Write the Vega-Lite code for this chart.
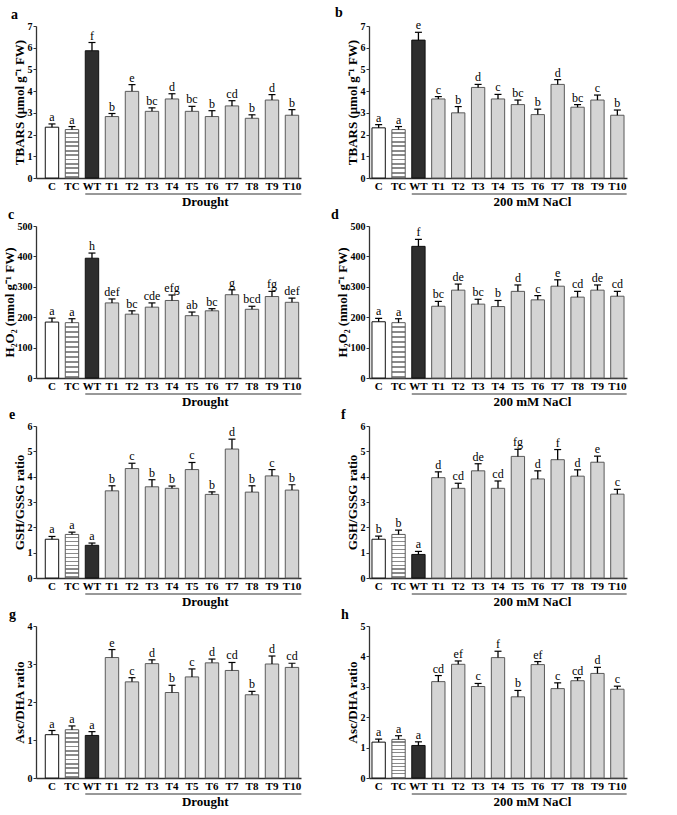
{
"$schema": "https://vega.github.io/schema/vega-lite/v6.json",
"padding": {"left": 3, "top": 6, "right": 5, "bottom": 5},
"background": "white",
"datasets": {
"bars": [
{"p":"a","g":"C","v":2.34,"hi":2.49,"l":"a"},{"p":"a","g":"TC","v":2.23,"hi":2.37,"l":"a"},{"p":"a","g":"WT","v":5.86,"hi":6.24,"l":"f"},{"p":"a","g":"T1","v":2.83,"hi":2.97,"l":"b"},{"p":"a","g":"T2","v":3.99,"hi":4.30,"l":"e"},{"p":"a","g":"T3","v":3.07,"hi":3.23,"l":"bc"},{"p":"a","g":"T4","v":3.64,"hi":3.88,"l":"d"},{"p":"a","g":"T5","v":3.07,"hi":3.30,"l":"bc"},{"p":"a","g":"T6","v":2.83,"hi":3.10,"l":"b"},{"p":"a","g":"T7","v":3.32,"hi":3.56,"l":"cd"},{"p":"a","g":"T8","v":2.75,"hi":2.91,"l":"b"},{"p":"a","g":"T9","v":3.59,"hi":3.84,"l":"d"},{"p":"a","g":"T10","v":2.89,"hi":3.15,"l":"b"},
{"p":"b","g":"C","v":2.31,"hi":2.46,"l":"a"},{"p":"b","g":"TC","v":2.23,"hi":2.37,"l":"a"},{"p":"b","g":"WT","v":6.35,"hi":6.71,"l":"e"},{"p":"b","g":"T1","v":3.64,"hi":3.75,"l":"c"},{"p":"b","g":"T2","v":3.00,"hi":3.29,"l":"b"},{"p":"b","g":"T3","v":4.17,"hi":4.31,"l":"d"},{"p":"b","g":"T4","v":3.64,"hi":3.85,"l":"c"},{"p":"b","g":"T5","v":3.38,"hi":3.59,"l":"bc"},{"p":"b","g":"T6","v":2.92,"hi":3.17,"l":"b"},{"p":"b","g":"T7","v":4.31,"hi":4.53,"l":"d"},{"p":"b","g":"T8","v":3.26,"hi":3.38,"l":"bc"},{"p":"b","g":"T9","v":3.59,"hi":3.82,"l":"c"},{"p":"b","g":"T10","v":2.89,"hi":3.13,"l":"b"},
{"p":"c","g":"C","v":184,"hi":197,"l":"a"},{"p":"c","g":"TC","v":182,"hi":195,"l":"a"},{"p":"c","g":"WT","v":394,"hi":411,"l":"h"},{"p":"c","g":"T1","v":247,"hi":260,"l":"def"},{"p":"c","g":"T2","v":210,"hi":221,"l":"bc"},{"p":"c","g":"T3","v":233,"hi":247,"l":"cde"},{"p":"c","g":"T4","v":255,"hi":273,"l":"efg"},{"p":"c","g":"T5","v":205,"hi":217,"l":"ab"},{"p":"c","g":"T6","v":221,"hi":228,"l":"bc"},{"p":"c","g":"T7","v":274,"hi":290,"l":"g"},{"p":"c","g":"T8","v":226,"hi":236,"l":"bcd"},{"p":"c","g":"T9","v":268,"hi":285,"l":"fg"},{"p":"c","g":"T10","v":249,"hi":263,"l":"def"},
{"p":"d","g":"C","v":185,"hi":196,"l":"a"},{"p":"d","g":"TC","v":182,"hi":195,"l":"a"},{"p":"d","g":"WT","v":433,"hi":456,"l":"f"},{"p":"d","g":"T1","v":236,"hi":252,"l":"bc"},{"p":"d","g":"T2","v":289,"hi":309,"l":"de"},{"p":"d","g":"T3","v":243,"hi":259,"l":"bc"},{"p":"d","g":"T4","v":235,"hi":255,"l":"b"},{"p":"d","g":"T5","v":285,"hi":306,"l":"d"},{"p":"d","g":"T6","v":257,"hi":271,"l":"c"},{"p":"d","g":"T7","v":302,"hi":323,"l":"e"},{"p":"d","g":"T8","v":266,"hi":285,"l":"cd"},{"p":"d","g":"T9","v":289,"hi":306,"l":"de"},{"p":"d","g":"T10","v":269,"hi":285,"l":"cd"},
{"p":"e","g":"C","v":1.53,"hi":1.64,"l":"a"},{"p":"e","g":"TC","v":1.72,"hi":1.81,"l":"a"},{"p":"e","g":"WT","v":1.29,"hi":1.38,"l":"a"},{"p":"e","g":"T1","v":3.44,"hi":3.64,"l":"b"},{"p":"e","g":"T2","v":4.32,"hi":4.53,"l":"c"},{"p":"e","g":"T3","v":3.60,"hi":3.88,"l":"b"},{"p":"e","g":"T4","v":3.54,"hi":3.63,"l":"b"},{"p":"e","g":"T5","v":4.28,"hi":4.56,"l":"c"},{"p":"e","g":"T6","v":3.30,"hi":3.40,"l":"b"},{"p":"e","g":"T7","v":5.09,"hi":5.48,"l":"d"},{"p":"e","g":"T8","v":3.39,"hi":3.64,"l":"b"},{"p":"e","g":"T9","v":4.03,"hi":4.28,"l":"c"},{"p":"e","g":"T10","v":3.47,"hi":3.68,"l":"b"},
{"p":"f","g":"C","v":1.53,"hi":1.65,"l":"b"},{"p":"f","g":"TC","v":1.72,"hi":1.89,"l":"b"},{"p":"f","g":"WT","v":0.93,"hi":1.05,"l":"a"},{"p":"f","g":"T1","v":3.96,"hi":4.19,"l":"d"},{"p":"f","g":"T2","v":3.54,"hi":3.74,"l":"cd"},{"p":"f","g":"T3","v":4.23,"hi":4.51,"l":"de"},{"p":"f","g":"T4","v":3.54,"hi":3.83,"l":"cd"},{"p":"f","g":"T5","v":4.80,"hi":5.08,"l":"fg"},{"p":"f","g":"T6","v":3.91,"hi":4.23,"l":"d"},{"p":"f","g":"T7","v":4.67,"hi":5.07,"l":"f"},{"p":"f","g":"T8","v":4.02,"hi":4.27,"l":"d"},{"p":"f","g":"T9","v":4.57,"hi":4.81,"l":"e"},{"p":"f","g":"T10","v":3.31,"hi":3.50,"l":"c"},
{"p":"g","g":"C","v":1.14,"hi":1.25,"l":"a"},{"p":"g","g":"TC","v":1.27,"hi":1.37,"l":"a"},{"p":"g","g":"WT","v":1.12,"hi":1.22,"l":"a"},{"p":"g","g":"T1","v":3.17,"hi":3.38,"l":"e"},{"p":"g","g":"T2","v":2.53,"hi":2.64,"l":"c"},{"p":"g","g":"T3","v":3.01,"hi":3.11,"l":"d"},{"p":"g","g":"T4","v":2.25,"hi":2.44,"l":"b"},{"p":"g","g":"T5","v":2.66,"hi":2.87,"l":"c"},{"p":"g","g":"T6","v":3.03,"hi":3.13,"l":"d"},{"p":"g","g":"T7","v":2.83,"hi":3.04,"l":"cd"},{"p":"g","g":"T8","v":2.19,"hi":2.28,"l":"b"},{"p":"g","g":"T9","v":3.00,"hi":3.21,"l":"d"},{"p":"g","g":"T10","v":2.91,"hi":3.02,"l":"cd"},
{"p":"h","g":"C","v":1.18,"hi":1.28,"l":"a"},{"p":"h","g":"TC","v":1.27,"hi":1.39,"l":"a"},{"p":"h","g":"WT","v":1.07,"hi":1.19,"l":"a"},{"p":"h","g":"T1","v":3.17,"hi":3.37,"l":"cd"},{"p":"h","g":"T2","v":3.74,"hi":3.85,"l":"ef"},{"p":"h","g":"T3","v":3.01,"hi":3.11,"l":"c"},{"p":"h","g":"T4","v":3.96,"hi":4.17,"l":"f"},{"p":"h","g":"T5","v":2.67,"hi":2.88,"l":"b"},{"p":"h","g":"T6","v":3.73,"hi":3.83,"l":"ef"},{"p":"h","g":"T7","v":2.94,"hi":3.13,"l":"c"},{"p":"h","g":"T8","v":3.20,"hi":3.30,"l":"cd"},{"p":"h","g":"T9","v":3.44,"hi":3.64,"l":"d"},{"p":"h","g":"T10","v":2.92,"hi":3.02,"l":"c"}
],
"groups": [
{"p":"a","t":"Drought"},{"p":"b","t":"200 mM NaCl"},{"p":"c","t":"Drought"},{"p":"d","t":"200 mM NaCl"},{"p":"e","t":"Drought"},{"p":"f","t":"200 mM NaCl"},{"p":"g","t":"Drought"},{"p":"h","t":"200 mM NaCl"}
]
},
"data": {"name": "bars"},
"columns": 2,
"bounds": "flush",
"spacing": {"row": 48, "column": 68},
"concat": [
{
"width": 265, "height": 152,
"title": {"text": "a", "dx": -2},
"transform": [{"filter": "datum.p === 'a'"}],
"encoding": {"x": {"field": "g", "type": "nominal", "title": null, "sort": ["C","TC","WT","T1","T2","T3","T4","T5","T6","T7","T8","T9","T10"], "scale": {"paddingInner": 0.33, "paddingOuter": 0.29, "align": 0.8}, "axis": {"labelOverlap": false}}},
"layer": [
{"transform": [{"filter": "datum.g !== 'TC'"}], "mark": {"type": "bar", "strokeWidth": 1}, "encoding": {"y": {"field": "v", "type": "quantitative", "scale": {"domain": [0, 7], "nice": false}, "axis": {"values": [0,1,2,3,4,5,6,7], "tickCount": 10, "format": "d", "labelOverlap": false, "title": "TBARS (μmol  g⁻¹  FW)"}}, "fill": {"condition": [{"test": "datum.g === 'C'", "value": "white"}, {"test": "datum.g === 'WT'", "value": "#2e2e2e"}], "value": "#d4d4d4"}, "stroke": {"condition": [{"test": "datum.g === 'C' || datum.g === 'WT'", "value": "#111111"}], "value": "#5a5a5a"}}},
{"transform": [{"filter": "datum.g === 'TC'"}], "mark": {"type": "bar", "strokeWidth": 1, "stroke": "#5a5a5a", "fill": {"gradient": "linear", "x1": 0, "y1": 0, "x2": 0, "y2": 1, "stops": [{"offset": 0, "color": "white"}, {"offset": 0.0545, "color": "white"}, {"offset": 0.0545, "color": "#8a8a8a"}, {"offset": 0.0909, "color": "#8a8a8a"}, {"offset": 0.0909, "color": "white"}, {"offset": 0.1455, "color": "white"}, {"offset": 0.1455, "color": "#8a8a8a"}, {"offset": 0.1818, "color": "#8a8a8a"}, {"offset": 0.1818, "color": "white"}, {"offset": 0.2364, "color": "white"}, {"offset": 0.2364, "color": "#8a8a8a"}, {"offset": 0.2727, "color": "#8a8a8a"}, {"offset": 0.2727, "color": "white"}, {"offset": 0.3273, "color": "white"}, {"offset": 0.3273, "color": "#8a8a8a"}, {"offset": 0.3636, "color": "#8a8a8a"}, {"offset": 0.3636, "color": "white"}, {"offset": 0.4182, "color": "white"}, {"offset": 0.4182, "color": "#8a8a8a"}, {"offset": 0.4545, "color": "#8a8a8a"}, {"offset": 0.4545, "color": "white"}, {"offset": 0.5091, "color": "white"}, {"offset": 0.5091, "color": "#8a8a8a"}, {"offset": 0.5455, "color": "#8a8a8a"}, {"offset": 0.5455, "color": "white"}, {"offset": 0.6, "color": "white"}, {"offset": 0.6, "color": "#8a8a8a"}, {"offset": 0.6364, "color": "#8a8a8a"}, {"offset": 0.6364, "color": "white"}, {"offset": 0.6909, "color": "white"}, {"offset": 0.6909, "color": "#8a8a8a"}, {"offset": 0.7273, "color": "#8a8a8a"}, {"offset": 0.7273, "color": "white"}, {"offset": 0.7818, "color": "white"}, {"offset": 0.7818, "color": "#8a8a8a"}, {"offset": 0.8182, "color": "#8a8a8a"}, {"offset": 0.8182, "color": "white"}, {"offset": 0.8727, "color": "white"}, {"offset": 0.8727, "color": "#8a8a8a"}, {"offset": 0.9091, "color": "#8a8a8a"}, {"offset": 0.9091, "color": "white"}, {"offset": 0.9636, "color": "white"}, {"offset": 0.9636, "color": "#8a8a8a"}, {"offset": 1, "color": "#8a8a8a"}]}}, "encoding": {"y": {"field": "v", "type": "quantitative"}}},
{"mark": {"type": "rule", "color": "black", "strokeWidth": 1.3}, "encoding": {"y": {"field": "v", "type": "quantitative"}, "y2": {"field": "hi"}}},
{"mark": {"type": "tick", "color": "black", "size": 7, "thickness": 1.2, "opacity": 1}, "encoding": {"y": {"field": "hi", "type": "quantitative"}}},
{"mark": {"type": "text", "fontSize": 12, "baseline": "alphabetic", "dy": -3, "color": "black"}, "encoding": {"y": {"field": "hi", "type": "quantitative"}, "text": {"field": "l"}}},
{"data": {"name": "groups"}, "transform": [{"filter": "datum.p === 'a'"}], "mark": {"type": "rule", "color": "#333333", "strokeWidth": 1, "yOffset": 16}, "encoding": {"x": {"datum": "WT", "bandPosition": 0}, "x2": {"datum": "T10", "bandPosition": 1.2}, "y": {"datum": 0}}},
{"data": {"name": "groups"}, "transform": [{"filter": "datum.p === 'a'"}], "mark": {"type": "text", "fontSize": 13, "fontWeight": "bold", "baseline": "alphabetic", "dy": 28, "color": "black"}, "encoding": {"x": {"datum": "T6", "bandPosition": 0}, "y": {"datum": 0}, "text": {"field": "t"}}}
]
},
{
"width": 258, "height": 152,
"title": {"text": "b", "dx": -11},
"transform": [{"filter": "datum.p === 'b'"}],
"encoding": {"x": {"field": "g", "type": "nominal", "title": null, "sort": ["C","TC","WT","T1","T2","T3","T4","T5","T6","T7","T8","T9","T10"], "scale": {"paddingInner": 0.33, "paddingOuter": 0.15, "align": 0.5}, "axis": {"labelOverlap": false}}},
"layer": [
{"transform": [{"filter": "datum.g !== 'TC'"}], "mark": {"type": "bar", "strokeWidth": 1}, "encoding": {"y": {"field": "v", "type": "quantitative", "scale": {"domain": [0, 7], "nice": false}, "axis": {"values": [0,1,2,3,4,5,6,7], "tickCount": 10, "format": "d", "labelOverlap": false, "title": "TBARS (μmol  g⁻¹  FW)"}}, "fill": {"condition": [{"test": "datum.g === 'C'", "value": "white"}, {"test": "datum.g === 'WT'", "value": "#2e2e2e"}], "value": "#d4d4d4"}, "stroke": {"condition": [{"test": "datum.g === 'C' || datum.g === 'WT'", "value": "#111111"}], "value": "#5a5a5a"}}},
{"transform": [{"filter": "datum.g === 'TC'"}], "mark": {"type": "bar", "strokeWidth": 1, "stroke": "#5a5a5a", "fill": {"gradient": "linear", "x1": 0, "y1": 0, "x2": 0, "y2": 1, "stops": [{"offset": 0, "color": "white"}, {"offset": 0.0545, "color": "white"}, {"offset": 0.0545, "color": "#8a8a8a"}, {"offset": 0.0909, "color": "#8a8a8a"}, {"offset": 0.0909, "color": "white"}, {"offset": 0.1455, "color": "white"}, {"offset": 0.1455, "color": "#8a8a8a"}, {"offset": 0.1818, "color": "#8a8a8a"}, {"offset": 0.1818, "color": "white"}, {"offset": 0.2364, "color": "white"}, {"offset": 0.2364, "color": "#8a8a8a"}, {"offset": 0.2727, "color": "#8a8a8a"}, {"offset": 0.2727, "color": "white"}, {"offset": 0.3273, "color": "white"}, {"offset": 0.3273, "color": "#8a8a8a"}, {"offset": 0.3636, "color": "#8a8a8a"}, {"offset": 0.3636, "color": "white"}, {"offset": 0.4182, "color": "white"}, {"offset": 0.4182, "color": "#8a8a8a"}, {"offset": 0.4545, "color": "#8a8a8a"}, {"offset": 0.4545, "color": "white"}, {"offset": 0.5091, "color": "white"}, {"offset": 0.5091, "color": "#8a8a8a"}, {"offset": 0.5455, "color": "#8a8a8a"}, {"offset": 0.5455, "color": "white"}, {"offset": 0.6, "color": "white"}, {"offset": 0.6, "color": "#8a8a8a"}, {"offset": 0.6364, "color": "#8a8a8a"}, {"offset": 0.6364, "color": "white"}, {"offset": 0.6909, "color": "white"}, {"offset": 0.6909, "color": "#8a8a8a"}, {"offset": 0.7273, "color": "#8a8a8a"}, {"offset": 0.7273, "color": "white"}, {"offset": 0.7818, "color": "white"}, {"offset": 0.7818, "color": "#8a8a8a"}, {"offset": 0.8182, "color": "#8a8a8a"}, {"offset": 0.8182, "color": "white"}, {"offset": 0.8727, "color": "white"}, {"offset": 0.8727, "color": "#8a8a8a"}, {"offset": 0.9091, "color": "#8a8a8a"}, {"offset": 0.9091, "color": "white"}, {"offset": 0.9636, "color": "white"}, {"offset": 0.9636, "color": "#8a8a8a"}, {"offset": 1, "color": "#8a8a8a"}]}}, "encoding": {"y": {"field": "v", "type": "quantitative"}}},
{"mark": {"type": "rule", "color": "black", "strokeWidth": 1.3}, "encoding": {"y": {"field": "v", "type": "quantitative"}, "y2": {"field": "hi"}}},
{"mark": {"type": "tick", "color": "black", "size": 7, "thickness": 1.2, "opacity": 1}, "encoding": {"y": {"field": "hi", "type": "quantitative"}}},
{"mark": {"type": "text", "fontSize": 12, "baseline": "alphabetic", "dy": -3, "color": "black"}, "encoding": {"y": {"field": "hi", "type": "quantitative"}, "text": {"field": "l"}}},
{"data": {"name": "groups"}, "transform": [{"filter": "datum.p === 'b'"}], "mark": {"type": "rule", "color": "#333333", "strokeWidth": 1, "yOffset": 16}, "encoding": {"x": {"datum": "WT", "bandPosition": 0}, "x2": {"datum": "T10", "bandPosition": 1.2}, "y": {"datum": 0}}},
{"data": {"name": "groups"}, "transform": [{"filter": "datum.p === 'b'"}], "mark": {"type": "text", "fontSize": 13, "fontWeight": "bold", "baseline": "alphabetic", "dy": 28, "color": "black"}, "encoding": {"x": {"datum": "T6", "bandPosition": 0.1}, "y": {"datum": 0}, "text": {"field": "t"}}}
]
},
{
"width": 265, "height": 152,
"title": {"text": "c", "dx": 5},
"transform": [{"filter": "datum.p === 'c'"}],
"encoding": {"x": {"field": "g", "type": "nominal", "title": null, "sort": ["C","TC","WT","T1","T2","T3","T4","T5","T6","T7","T8","T9","T10"], "scale": {"paddingInner": 0.33, "paddingOuter": 0.29, "align": 0.8}, "axis": {"labelOverlap": false}}},
"layer": [
{"transform": [{"filter": "datum.g !== 'TC'"}], "mark": {"type": "bar", "strokeWidth": 1}, "encoding": {"y": {"field": "v", "type": "quantitative", "scale": {"domain": [0, 500], "nice": false}, "axis": {"values": [0,100,200,300,400,500], "tickCount": 10, "format": "d", "labelOverlap": false, "title": "H₂O₂  (nmol g⁻¹ FW)"}}, "fill": {"condition": [{"test": "datum.g === 'C'", "value": "white"}, {"test": "datum.g === 'WT'", "value": "#2e2e2e"}], "value": "#d4d4d4"}, "stroke": {"condition": [{"test": "datum.g === 'C' || datum.g === 'WT'", "value": "#111111"}], "value": "#5a5a5a"}}},
{"transform": [{"filter": "datum.g === 'TC'"}], "mark": {"type": "bar", "strokeWidth": 1, "stroke": "#5a5a5a", "fill": {"gradient": "linear", "x1": 0, "y1": 0, "x2": 0, "y2": 1, "stops": [{"offset": 0, "color": "white"}, {"offset": 0.0545, "color": "white"}, {"offset": 0.0545, "color": "#8a8a8a"}, {"offset": 0.0909, "color": "#8a8a8a"}, {"offset": 0.0909, "color": "white"}, {"offset": 0.1455, "color": "white"}, {"offset": 0.1455, "color": "#8a8a8a"}, {"offset": 0.1818, "color": "#8a8a8a"}, {"offset": 0.1818, "color": "white"}, {"offset": 0.2364, "color": "white"}, {"offset": 0.2364, "color": "#8a8a8a"}, {"offset": 0.2727, "color": "#8a8a8a"}, {"offset": 0.2727, "color": "white"}, {"offset": 0.3273, "color": "white"}, {"offset": 0.3273, "color": "#8a8a8a"}, {"offset": 0.3636, "color": "#8a8a8a"}, {"offset": 0.3636, "color": "white"}, {"offset": 0.4182, "color": "white"}, {"offset": 0.4182, "color": "#8a8a8a"}, {"offset": 0.4545, "color": "#8a8a8a"}, {"offset": 0.4545, "color": "white"}, {"offset": 0.5091, "color": "white"}, {"offset": 0.5091, "color": "#8a8a8a"}, {"offset": 0.5455, "color": "#8a8a8a"}, {"offset": 0.5455, "color": "white"}, {"offset": 0.6, "color": "white"}, {"offset": 0.6, "color": "#8a8a8a"}, {"offset": 0.6364, "color": "#8a8a8a"}, {"offset": 0.6364, "color": "white"}, {"offset": 0.6909, "color": "white"}, {"offset": 0.6909, "color": "#8a8a8a"}, {"offset": 0.7273, "color": "#8a8a8a"}, {"offset": 0.7273, "color": "white"}, {"offset": 0.7818, "color": "white"}, {"offset": 0.7818, "color": "#8a8a8a"}, {"offset": 0.8182, "color": "#8a8a8a"}, {"offset": 0.8182, "color": "white"}, {"offset": 0.8727, "color": "white"}, {"offset": 0.8727, "color": "#8a8a8a"}, {"offset": 0.9091, "color": "#8a8a8a"}, {"offset": 0.9091, "color": "white"}, {"offset": 0.9636, "color": "white"}, {"offset": 0.9636, "color": "#8a8a8a"}, {"offset": 1, "color": "#8a8a8a"}]}}, "encoding": {"y": {"field": "v", "type": "quantitative"}}},
{"mark": {"type": "rule", "color": "black", "strokeWidth": 1.3}, "encoding": {"y": {"field": "v", "type": "quantitative"}, "y2": {"field": "hi"}}},
{"mark": {"type": "tick", "color": "black", "size": 7, "thickness": 1.2, "opacity": 1}, "encoding": {"y": {"field": "hi", "type": "quantitative"}}},
{"mark": {"type": "text", "fontSize": 12, "baseline": "alphabetic", "dy": -3, "color": "black"}, "encoding": {"y": {"field": "hi", "type": "quantitative"}, "text": {"field": "l"}}},
{"data": {"name": "groups"}, "transform": [{"filter": "datum.p === 'c'"}], "mark": {"type": "rule", "color": "#333333", "strokeWidth": 1, "yOffset": 16}, "encoding": {"x": {"datum": "WT", "bandPosition": 0}, "x2": {"datum": "T10", "bandPosition": 1.2}, "y": {"datum": 0}}},
{"data": {"name": "groups"}, "transform": [{"filter": "datum.p === 'c'"}], "mark": {"type": "text", "fontSize": 13, "fontWeight": "bold", "baseline": "alphabetic", "dy": 28, "color": "black"}, "encoding": {"x": {"datum": "T6", "bandPosition": 0}, "y": {"datum": 0}, "text": {"field": "t"}}}
]
},
{
"width": 258, "height": 152,
"title": {"text": "d", "dx": -5},
"transform": [{"filter": "datum.p === 'd'"}],
"encoding": {"x": {"field": "g", "type": "nominal", "title": null, "sort": ["C","TC","WT","T1","T2","T3","T4","T5","T6","T7","T8","T9","T10"], "scale": {"paddingInner": 0.33, "paddingOuter": 0.15, "align": 0.5}, "axis": {"labelOverlap": false}}},
"layer": [
{"transform": [{"filter": "datum.g !== 'TC'"}], "mark": {"type": "bar", "strokeWidth": 1}, "encoding": {"y": {"field": "v", "type": "quantitative", "scale": {"domain": [0, 500], "nice": false}, "axis": {"values": [0,100,200,300,400,500], "tickCount": 10, "format": "d", "labelOverlap": false, "title": "H₂O₂  (nmol g⁻¹ FW)"}}, "fill": {"condition": [{"test": "datum.g === 'C'", "value": "white"}, {"test": "datum.g === 'WT'", "value": "#2e2e2e"}], "value": "#d4d4d4"}, "stroke": {"condition": [{"test": "datum.g === 'C' || datum.g === 'WT'", "value": "#111111"}], "value": "#5a5a5a"}}},
{"transform": [{"filter": "datum.g === 'TC'"}], "mark": {"type": "bar", "strokeWidth": 1, "stroke": "#5a5a5a", "fill": {"gradient": "linear", "x1": 0, "y1": 0, "x2": 0, "y2": 1, "stops": [{"offset": 0, "color": "white"}, {"offset": 0.0545, "color": "white"}, {"offset": 0.0545, "color": "#8a8a8a"}, {"offset": 0.0909, "color": "#8a8a8a"}, {"offset": 0.0909, "color": "white"}, {"offset": 0.1455, "color": "white"}, {"offset": 0.1455, "color": "#8a8a8a"}, {"offset": 0.1818, "color": "#8a8a8a"}, {"offset": 0.1818, "color": "white"}, {"offset": 0.2364, "color": "white"}, {"offset": 0.2364, "color": "#8a8a8a"}, {"offset": 0.2727, "color": "#8a8a8a"}, {"offset": 0.2727, "color": "white"}, {"offset": 0.3273, "color": "white"}, {"offset": 0.3273, "color": "#8a8a8a"}, {"offset": 0.3636, "color": "#8a8a8a"}, {"offset": 0.3636, "color": "white"}, {"offset": 0.4182, "color": "white"}, {"offset": 0.4182, "color": "#8a8a8a"}, {"offset": 0.4545, "color": "#8a8a8a"}, {"offset": 0.4545, "color": "white"}, {"offset": 0.5091, "color": "white"}, {"offset": 0.5091, "color": "#8a8a8a"}, {"offset": 0.5455, "color": "#8a8a8a"}, {"offset": 0.5455, "color": "white"}, {"offset": 0.6, "color": "white"}, {"offset": 0.6, "color": "#8a8a8a"}, {"offset": 0.6364, "color": "#8a8a8a"}, {"offset": 0.6364, "color": "white"}, {"offset": 0.6909, "color": "white"}, {"offset": 0.6909, "color": "#8a8a8a"}, {"offset": 0.7273, "color": "#8a8a8a"}, {"offset": 0.7273, "color": "white"}, {"offset": 0.7818, "color": "white"}, {"offset": 0.7818, "color": "#8a8a8a"}, {"offset": 0.8182, "color": "#8a8a8a"}, {"offset": 0.8182, "color": "white"}, {"offset": 0.8727, "color": "white"}, {"offset": 0.8727, "color": "#8a8a8a"}, {"offset": 0.9091, "color": "#8a8a8a"}, {"offset": 0.9091, "color": "white"}, {"offset": 0.9636, "color": "white"}, {"offset": 0.9636, "color": "#8a8a8a"}, {"offset": 1, "color": "#8a8a8a"}]}}, "encoding": {"y": {"field": "v", "type": "quantitative"}}},
{"mark": {"type": "rule", "color": "black", "strokeWidth": 1.3}, "encoding": {"y": {"field": "v", "type": "quantitative"}, "y2": {"field": "hi"}}},
{"mark": {"type": "tick", "color": "black", "size": 7, "thickness": 1.2, "opacity": 1}, "encoding": {"y": {"field": "hi", "type": "quantitative"}}},
{"mark": {"type": "text", "fontSize": 12, "baseline": "alphabetic", "dy": -3, "color": "black"}, "encoding": {"y": {"field": "hi", "type": "quantitative"}, "text": {"field": "l"}}},
{"data": {"name": "groups"}, "transform": [{"filter": "datum.p === 'd'"}], "mark": {"type": "rule", "color": "#333333", "strokeWidth": 1, "yOffset": 16}, "encoding": {"x": {"datum": "WT", "bandPosition": 0}, "x2": {"datum": "T10", "bandPosition": 1.2}, "y": {"datum": 0}}},
{"data": {"name": "groups"}, "transform": [{"filter": "datum.p === 'd'"}], "mark": {"type": "text", "fontSize": 13, "fontWeight": "bold", "baseline": "alphabetic", "dy": 28, "color": "black"}, "encoding": {"x": {"datum": "T6", "bandPosition": 0.1}, "y": {"datum": 0}, "text": {"field": "t"}}}
]
},
{
"width": 265, "height": 152,
"title": {"text": "e", "dx": -4},
"transform": [{"filter": "datum.p === 'e'"}],
"encoding": {"x": {"field": "g", "type": "nominal", "title": null, "sort": ["C","TC","WT","T1","T2","T3","T4","T5","T6","T7","T8","T9","T10"], "scale": {"paddingInner": 0.33, "paddingOuter": 0.29, "align": 0.8}, "axis": {"labelOverlap": false}}},
"layer": [
{"transform": [{"filter": "datum.g !== 'TC'"}], "mark": {"type": "bar", "strokeWidth": 1}, "encoding": {"y": {"field": "v", "type": "quantitative", "scale": {"domain": [0, 6], "nice": false}, "axis": {"values": [0,1,2,3,4,5,6], "tickCount": 10, "format": "d", "labelOverlap": false, "title": "GSH/GSSG  ratio"}}, "fill": {"condition": [{"test": "datum.g === 'C'", "value": "white"}, {"test": "datum.g === 'WT'", "value": "#2e2e2e"}], "value": "#d4d4d4"}, "stroke": {"condition": [{"test": "datum.g === 'C' || datum.g === 'WT'", "value": "#111111"}], "value": "#5a5a5a"}}},
{"transform": [{"filter": "datum.g === 'TC'"}], "mark": {"type": "bar", "strokeWidth": 1, "stroke": "#5a5a5a", "fill": {"gradient": "linear", "x1": 0, "y1": 0, "x2": 0, "y2": 1, "stops": [{"offset": 0, "color": "white"}, {"offset": 0.0545, "color": "white"}, {"offset": 0.0545, "color": "#8a8a8a"}, {"offset": 0.0909, "color": "#8a8a8a"}, {"offset": 0.0909, "color": "white"}, {"offset": 0.1455, "color": "white"}, {"offset": 0.1455, "color": "#8a8a8a"}, {"offset": 0.1818, "color": "#8a8a8a"}, {"offset": 0.1818, "color": "white"}, {"offset": 0.2364, "color": "white"}, {"offset": 0.2364, "color": "#8a8a8a"}, {"offset": 0.2727, "color": "#8a8a8a"}, {"offset": 0.2727, "color": "white"}, {"offset": 0.3273, "color": "white"}, {"offset": 0.3273, "color": "#8a8a8a"}, {"offset": 0.3636, "color": "#8a8a8a"}, {"offset": 0.3636, "color": "white"}, {"offset": 0.4182, "color": "white"}, {"offset": 0.4182, "color": "#8a8a8a"}, {"offset": 0.4545, "color": "#8a8a8a"}, {"offset": 0.4545, "color": "white"}, {"offset": 0.5091, "color": "white"}, {"offset": 0.5091, "color": "#8a8a8a"}, {"offset": 0.5455, "color": "#8a8a8a"}, {"offset": 0.5455, "color": "white"}, {"offset": 0.6, "color": "white"}, {"offset": 0.6, "color": "#8a8a8a"}, {"offset": 0.6364, "color": "#8a8a8a"}, {"offset": 0.6364, "color": "white"}, {"offset": 0.6909, "color": "white"}, {"offset": 0.6909, "color": "#8a8a8a"}, {"offset": 0.7273, "color": "#8a8a8a"}, {"offset": 0.7273, "color": "white"}, {"offset": 0.7818, "color": "white"}, {"offset": 0.7818, "color": "#8a8a8a"}, {"offset": 0.8182, "color": "#8a8a8a"}, {"offset": 0.8182, "color": "white"}, {"offset": 0.8727, "color": "white"}, {"offset": 0.8727, "color": "#8a8a8a"}, {"offset": 0.9091, "color": "#8a8a8a"}, {"offset": 0.9091, "color": "white"}, {"offset": 0.9636, "color": "white"}, {"offset": 0.9636, "color": "#8a8a8a"}, {"offset": 1, "color": "#8a8a8a"}]}}, "encoding": {"y": {"field": "v", "type": "quantitative"}}},
{"mark": {"type": "rule", "color": "black", "strokeWidth": 1.3}, "encoding": {"y": {"field": "v", "type": "quantitative"}, "y2": {"field": "hi"}}},
{"mark": {"type": "tick", "color": "black", "size": 7, "thickness": 1.2, "opacity": 1}, "encoding": {"y": {"field": "hi", "type": "quantitative"}}},
{"mark": {"type": "text", "fontSize": 12, "baseline": "alphabetic", "dy": -3, "color": "black"}, "encoding": {"y": {"field": "hi", "type": "quantitative"}, "text": {"field": "l"}}},
{"data": {"name": "groups"}, "transform": [{"filter": "datum.p === 'e'"}], "mark": {"type": "rule", "color": "#333333", "strokeWidth": 1, "yOffset": 16}, "encoding": {"x": {"datum": "WT", "bandPosition": 0}, "x2": {"datum": "T10", "bandPosition": 1.2}, "y": {"datum": 0}}},
{"data": {"name": "groups"}, "transform": [{"filter": "datum.p === 'e'"}], "mark": {"type": "text", "fontSize": 13, "fontWeight": "bold", "baseline": "alphabetic", "dy": 28, "color": "black"}, "encoding": {"x": {"datum": "T6", "bandPosition": 0}, "y": {"datum": 0}, "text": {"field": "t"}}}
]
},
{
"width": 258, "height": 152,
"title": {"text": "f", "dx": -5},
"transform": [{"filter": "datum.p === 'f'"}],
"encoding": {"x": {"field": "g", "type": "nominal", "title": null, "sort": ["C","TC","WT","T1","T2","T3","T4","T5","T6","T7","T8","T9","T10"], "scale": {"paddingInner": 0.33, "paddingOuter": 0.15, "align": 0.5}, "axis": {"labelOverlap": false}}},
"layer": [
{"transform": [{"filter": "datum.g !== 'TC'"}], "mark": {"type": "bar", "strokeWidth": 1}, "encoding": {"y": {"field": "v", "type": "quantitative", "scale": {"domain": [0, 6], "nice": false}, "axis": {"values": [0,1,2,3,4,5,6], "tickCount": 10, "format": "d", "labelOverlap": false, "title": "GSH/GSSG  ratio"}}, "fill": {"condition": [{"test": "datum.g === 'C'", "value": "white"}, {"test": "datum.g === 'WT'", "value": "#2e2e2e"}], "value": "#d4d4d4"}, "stroke": {"condition": [{"test": "datum.g === 'C' || datum.g === 'WT'", "value": "#111111"}], "value": "#5a5a5a"}}},
{"transform": [{"filter": "datum.g === 'TC'"}], "mark": {"type": "bar", "strokeWidth": 1, "stroke": "#5a5a5a", "fill": {"gradient": "linear", "x1": 0, "y1": 0, "x2": 0, "y2": 1, "stops": [{"offset": 0, "color": "white"}, {"offset": 0.0545, "color": "white"}, {"offset": 0.0545, "color": "#8a8a8a"}, {"offset": 0.0909, "color": "#8a8a8a"}, {"offset": 0.0909, "color": "white"}, {"offset": 0.1455, "color": "white"}, {"offset": 0.1455, "color": "#8a8a8a"}, {"offset": 0.1818, "color": "#8a8a8a"}, {"offset": 0.1818, "color": "white"}, {"offset": 0.2364, "color": "white"}, {"offset": 0.2364, "color": "#8a8a8a"}, {"offset": 0.2727, "color": "#8a8a8a"}, {"offset": 0.2727, "color": "white"}, {"offset": 0.3273, "color": "white"}, {"offset": 0.3273, "color": "#8a8a8a"}, {"offset": 0.3636, "color": "#8a8a8a"}, {"offset": 0.3636, "color": "white"}, {"offset": 0.4182, "color": "white"}, {"offset": 0.4182, "color": "#8a8a8a"}, {"offset": 0.4545, "color": "#8a8a8a"}, {"offset": 0.4545, "color": "white"}, {"offset": 0.5091, "color": "white"}, {"offset": 0.5091, "color": "#8a8a8a"}, {"offset": 0.5455, "color": "#8a8a8a"}, {"offset": 0.5455, "color": "white"}, {"offset": 0.6, "color": "white"}, {"offset": 0.6, "color": "#8a8a8a"}, {"offset": 0.6364, "color": "#8a8a8a"}, {"offset": 0.6364, "color": "white"}, {"offset": 0.6909, "color": "white"}, {"offset": 0.6909, "color": "#8a8a8a"}, {"offset": 0.7273, "color": "#8a8a8a"}, {"offset": 0.7273, "color": "white"}, {"offset": 0.7818, "color": "white"}, {"offset": 0.7818, "color": "#8a8a8a"}, {"offset": 0.8182, "color": "#8a8a8a"}, {"offset": 0.8182, "color": "white"}, {"offset": 0.8727, "color": "white"}, {"offset": 0.8727, "color": "#8a8a8a"}, {"offset": 0.9091, "color": "#8a8a8a"}, {"offset": 0.9091, "color": "white"}, {"offset": 0.9636, "color": "white"}, {"offset": 0.9636, "color": "#8a8a8a"}, {"offset": 1, "color": "#8a8a8a"}]}}, "encoding": {"y": {"field": "v", "type": "quantitative"}}},
{"mark": {"type": "rule", "color": "black", "strokeWidth": 1.3}, "encoding": {"y": {"field": "v", "type": "quantitative"}, "y2": {"field": "hi"}}},
{"mark": {"type": "tick", "color": "black", "size": 7, "thickness": 1.2, "opacity": 1}, "encoding": {"y": {"field": "hi", "type": "quantitative"}}},
{"mark": {"type": "text", "fontSize": 12, "baseline": "alphabetic", "dy": -3, "color": "black"}, "encoding": {"y": {"field": "hi", "type": "quantitative"}, "text": {"field": "l"}}},
{"data": {"name": "groups"}, "transform": [{"filter": "datum.p === 'f'"}], "mark": {"type": "rule", "color": "#333333", "strokeWidth": 1, "yOffset": 16}, "encoding": {"x": {"datum": "WT", "bandPosition": 0}, "x2": {"datum": "T10", "bandPosition": 1.2}, "y": {"datum": 0}}},
{"data": {"name": "groups"}, "transform": [{"filter": "datum.p === 'f'"}], "mark": {"type": "text", "fontSize": 13, "fontWeight": "bold", "baseline": "alphabetic", "dy": 28, "color": "black"}, "encoding": {"x": {"datum": "T6", "bandPosition": 0.1}, "y": {"datum": 0}, "text": {"field": "t"}}}
]
},
{
"width": 265, "height": 152,
"title": {"text": "g", "dx": -4},
"transform": [{"filter": "datum.p === 'g'"}],
"encoding": {"x": {"field": "g", "type": "nominal", "title": null, "sort": ["C","TC","WT","T1","T2","T3","T4","T5","T6","T7","T8","T9","T10"], "scale": {"paddingInner": 0.33, "paddingOuter": 0.29, "align": 0.8}, "axis": {"labelOverlap": false}}},
"layer": [
{"transform": [{"filter": "datum.g !== 'TC'"}], "mark": {"type": "bar", "strokeWidth": 1}, "encoding": {"y": {"field": "v", "type": "quantitative", "scale": {"domain": [0, 4], "nice": false}, "axis": {"values": [0,1,2,3,4], "tickCount": 10, "format": "d", "labelOverlap": false, "title": "Asc/DHA  ratio"}}, "fill": {"condition": [{"test": "datum.g === 'C'", "value": "white"}, {"test": "datum.g === 'WT'", "value": "#2e2e2e"}], "value": "#d4d4d4"}, "stroke": {"condition": [{"test": "datum.g === 'C' || datum.g === 'WT'", "value": "#111111"}], "value": "#5a5a5a"}}},
{"transform": [{"filter": "datum.g === 'TC'"}], "mark": {"type": "bar", "strokeWidth": 1, "stroke": "#5a5a5a", "fill": {"gradient": "linear", "x1": 0, "y1": 0, "x2": 0, "y2": 1, "stops": [{"offset": 0, "color": "white"}, {"offset": 0.0545, "color": "white"}, {"offset": 0.0545, "color": "#8a8a8a"}, {"offset": 0.0909, "color": "#8a8a8a"}, {"offset": 0.0909, "color": "white"}, {"offset": 0.1455, "color": "white"}, {"offset": 0.1455, "color": "#8a8a8a"}, {"offset": 0.1818, "color": "#8a8a8a"}, {"offset": 0.1818, "color": "white"}, {"offset": 0.2364, "color": "white"}, {"offset": 0.2364, "color": "#8a8a8a"}, {"offset": 0.2727, "color": "#8a8a8a"}, {"offset": 0.2727, "color": "white"}, {"offset": 0.3273, "color": "white"}, {"offset": 0.3273, "color": "#8a8a8a"}, {"offset": 0.3636, "color": "#8a8a8a"}, {"offset": 0.3636, "color": "white"}, {"offset": 0.4182, "color": "white"}, {"offset": 0.4182, "color": "#8a8a8a"}, {"offset": 0.4545, "color": "#8a8a8a"}, {"offset": 0.4545, "color": "white"}, {"offset": 0.5091, "color": "white"}, {"offset": 0.5091, "color": "#8a8a8a"}, {"offset": 0.5455, "color": "#8a8a8a"}, {"offset": 0.5455, "color": "white"}, {"offset": 0.6, "color": "white"}, {"offset": 0.6, "color": "#8a8a8a"}, {"offset": 0.6364, "color": "#8a8a8a"}, {"offset": 0.6364, "color": "white"}, {"offset": 0.6909, "color": "white"}, {"offset": 0.6909, "color": "#8a8a8a"}, {"offset": 0.7273, "color": "#8a8a8a"}, {"offset": 0.7273, "color": "white"}, {"offset": 0.7818, "color": "white"}, {"offset": 0.7818, "color": "#8a8a8a"}, {"offset": 0.8182, "color": "#8a8a8a"}, {"offset": 0.8182, "color": "white"}, {"offset": 0.8727, "color": "white"}, {"offset": 0.8727, "color": "#8a8a8a"}, {"offset": 0.9091, "color": "#8a8a8a"}, {"offset": 0.9091, "color": "white"}, {"offset": 0.9636, "color": "white"}, {"offset": 0.9636, "color": "#8a8a8a"}, {"offset": 1, "color": "#8a8a8a"}]}}, "encoding": {"y": {"field": "v", "type": "quantitative"}}},
{"mark": {"type": "rule", "color": "black", "strokeWidth": 1.3}, "encoding": {"y": {"field": "v", "type": "quantitative"}, "y2": {"field": "hi"}}},
{"mark": {"type": "tick", "color": "black", "size": 7, "thickness": 1.2, "opacity": 1}, "encoding": {"y": {"field": "hi", "type": "quantitative"}}},
{"mark": {"type": "text", "fontSize": 12, "baseline": "alphabetic", "dy": -3, "color": "black"}, "encoding": {"y": {"field": "hi", "type": "quantitative"}, "text": {"field": "l"}}},
{"data": {"name": "groups"}, "transform": [{"filter": "datum.p === 'g'"}], "mark": {"type": "rule", "color": "#333333", "strokeWidth": 1, "yOffset": 16}, "encoding": {"x": {"datum": "WT", "bandPosition": 0}, "x2": {"datum": "T10", "bandPosition": 1.2}, "y": {"datum": 0}}},
{"data": {"name": "groups"}, "transform": [{"filter": "datum.p === 'g'"}], "mark": {"type": "text", "fontSize": 13, "fontWeight": "bold", "baseline": "alphabetic", "dy": 28, "color": "black"}, "encoding": {"x": {"datum": "T6", "bandPosition": 0}, "y": {"datum": 0}, "text": {"field": "t"}}}
]
},
{
"width": 258, "height": 152,
"title": {"text": "h", "dx": -5},
"transform": [{"filter": "datum.p === 'h'"}],
"encoding": {"x": {"field": "g", "type": "nominal", "title": null, "sort": ["C","TC","WT","T1","T2","T3","T4","T5","T6","T7","T8","T9","T10"], "scale": {"paddingInner": 0.33, "paddingOuter": 0.15, "align": 0.5}, "axis": {"labelOverlap": false}}},
"layer": [
{"transform": [{"filter": "datum.g !== 'TC'"}], "mark": {"type": "bar", "strokeWidth": 1}, "encoding": {"y": {"field": "v", "type": "quantitative", "scale": {"domain": [0, 5], "nice": false}, "axis": {"values": [0,1,2,3,4,5], "tickCount": 10, "format": "d", "labelOverlap": false, "title": "Asc/DHA  ratio"}}, "fill": {"condition": [{"test": "datum.g === 'C'", "value": "white"}, {"test": "datum.g === 'WT'", "value": "#2e2e2e"}], "value": "#d4d4d4"}, "stroke": {"condition": [{"test": "datum.g === 'C' || datum.g === 'WT'", "value": "#111111"}], "value": "#5a5a5a"}}},
{"transform": [{"filter": "datum.g === 'TC'"}], "mark": {"type": "bar", "strokeWidth": 1, "stroke": "#5a5a5a", "fill": {"gradient": "linear", "x1": 0, "y1": 0, "x2": 0, "y2": 1, "stops": [{"offset": 0, "color": "white"}, {"offset": 0.0545, "color": "white"}, {"offset": 0.0545, "color": "#8a8a8a"}, {"offset": 0.0909, "color": "#8a8a8a"}, {"offset": 0.0909, "color": "white"}, {"offset": 0.1455, "color": "white"}, {"offset": 0.1455, "color": "#8a8a8a"}, {"offset": 0.1818, "color": "#8a8a8a"}, {"offset": 0.1818, "color": "white"}, {"offset": 0.2364, "color": "white"}, {"offset": 0.2364, "color": "#8a8a8a"}, {"offset": 0.2727, "color": "#8a8a8a"}, {"offset": 0.2727, "color": "white"}, {"offset": 0.3273, "color": "white"}, {"offset": 0.3273, "color": "#8a8a8a"}, {"offset": 0.3636, "color": "#8a8a8a"}, {"offset": 0.3636, "color": "white"}, {"offset": 0.4182, "color": "white"}, {"offset": 0.4182, "color": "#8a8a8a"}, {"offset": 0.4545, "color": "#8a8a8a"}, {"offset": 0.4545, "color": "white"}, {"offset": 0.5091, "color": "white"}, {"offset": 0.5091, "color": "#8a8a8a"}, {"offset": 0.5455, "color": "#8a8a8a"}, {"offset": 0.5455, "color": "white"}, {"offset": 0.6, "color": "white"}, {"offset": 0.6, "color": "#8a8a8a"}, {"offset": 0.6364, "color": "#8a8a8a"}, {"offset": 0.6364, "color": "white"}, {"offset": 0.6909, "color": "white"}, {"offset": 0.6909, "color": "#8a8a8a"}, {"offset": 0.7273, "color": "#8a8a8a"}, {"offset": 0.7273, "color": "white"}, {"offset": 0.7818, "color": "white"}, {"offset": 0.7818, "color": "#8a8a8a"}, {"offset": 0.8182, "color": "#8a8a8a"}, {"offset": 0.8182, "color": "white"}, {"offset": 0.8727, "color": "white"}, {"offset": 0.8727, "color": "#8a8a8a"}, {"offset": 0.9091, "color": "#8a8a8a"}, {"offset": 0.9091, "color": "white"}, {"offset": 0.9636, "color": "white"}, {"offset": 0.9636, "color": "#8a8a8a"}, {"offset": 1, "color": "#8a8a8a"}]}}, "encoding": {"y": {"field": "v", "type": "quantitative"}}},
{"mark": {"type": "rule", "color": "black", "strokeWidth": 1.3}, "encoding": {"y": {"field": "v", "type": "quantitative"}, "y2": {"field": "hi"}}},
{"mark": {"type": "tick", "color": "black", "size": 7, "thickness": 1.2, "opacity": 1}, "encoding": {"y": {"field": "hi", "type": "quantitative"}}},
{"mark": {"type": "text", "fontSize": 12, "baseline": "alphabetic", "dy": -3, "color": "black"}, "encoding": {"y": {"field": "hi", "type": "quantitative"}, "text": {"field": "l"}}},
{"data": {"name": "groups"}, "transform": [{"filter": "datum.p === 'h'"}], "mark": {"type": "rule", "color": "#333333", "strokeWidth": 1, "yOffset": 16}, "encoding": {"x": {"datum": "WT", "bandPosition": 0}, "x2": {"datum": "T10", "bandPosition": 1.2}, "y": {"datum": 0}}},
{"data": {"name": "groups"}, "transform": [{"filter": "datum.p === 'h'"}], "mark": {"type": "text", "fontSize": 13, "fontWeight": "bold", "baseline": "alphabetic", "dy": 28, "color": "black"}, "encoding": {"x": {"datum": "T6", "bandPosition": 0.1}, "y": {"datum": 0}, "text": {"field": "t"}}}
]
}
],
"config": {
"view": {"stroke": null},
"font": "Liberation Serif",
"title": {"anchor": "start", "frame": "bounds", "fontSize": 14, "font": "Liberation Serif", "fontWeight": "bold", "color": "black", "offset": -1},
"axis": {"grid": false, "labelFont": "Liberation Serif", "labelFontWeight": "bold", "labelFontSize": 11, "labelColor": "black", "titleFont": "Liberation Serif", "titleFontWeight": "bold", "titleFontSize": 13, "titleColor": "black", "domainColor": "#333333", "domainWidth": 1.3, "tickColor": "#333333", "labelOverlap": false},
"axisX": {"ticks": false, "labelAngle": 0, "labelPadding": 2},
"axisY": {"tickSize": 3, "labelPadding": 1, "titlePadding": 1, "labelFontSize": 10}
}
}
